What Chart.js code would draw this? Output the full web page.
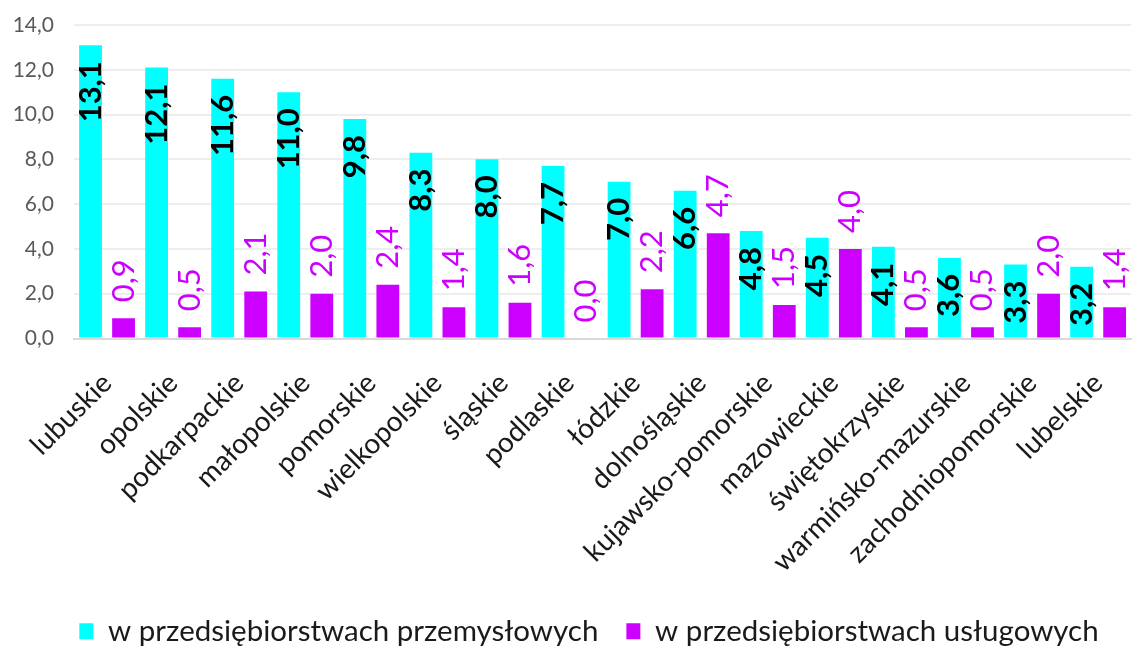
<!DOCTYPE html>
<html>
<head>
<meta charset="utf-8">
<script src="https://cdn.jsdelivr.net/npm/chart.js@4.4.1/dist/chart.umd.min.js"></script>
<style>
  html, body { margin: 0; padding: 0; background: #fff; overflow: hidden; }
</style>
</head>
<body>
<canvas id="chart" width="1150" height="648"></canvas>
<script>
// dane z wykresu
const regions = [
    'lubuskie', 'opolskie', 'podkarpackie', 'małopolskie', 'pomorskie',
    'wielkopolskie', 'śląskie', 'podlaskie', 'łódzkie', 'dolnośląskie',
    'kujawsko-pomorskie', 'mazowieckie', 'świętokrzyskie',
    'warmińsko-mazurskie', 'zachodniopomorskie', 'lubelskie'
];
const przemyslowe = [13.1, 12.1, 11.6, 11.0, 9.8, 8.3, 8.0, 7.7, 7.0, 6.6, 4.8, 4.5, 4.1, 3.6, 3.3, 3.2];
const uslugowe = [0.9, 0.5, 2.1, 2.0, 2.4, 1.4, 1.6, 0.0, 2.2, 4.7, 1.5, 4.0, 0.5, 0.5, 2.0, 1.4];
const seriesNames = ['w przedsiębiorstwach przemysłowych', 'w przedsiębiorstwach usługowych'];
const yMin = 0, yMax = 14, yStep = 2;

const CYAN = '#00FFFF';
const MAGENTA = '#CC00FF';
const FONT = 'Lato';

const fmt = v => Number(v).toFixed(1).replace('.', ',');

// etykiety danych obrócone o 90 stopni
const barLabels = {
    id: 'barLabels',
    afterDatasetsDraw(chart) {
        const ctx = chart.ctx;
        chart.data.datasets.forEach((ds, i) => {
            const meta = chart.getDatasetMeta(i);
            meta.data.forEach((bar, j) => {
                ctx.save();
                if (i === 0) {
                    ctx.translate(bar.x, bar.y + 16);
                    ctx.textAlign = 'right';
                    ctx.fillStyle = '#000';
                    ctx.font = 'bold 31px ' + FONT;
                } else {
                    ctx.translate(bar.x, bar.y - 16);
                    ctx.textAlign = 'left';
                    ctx.fillStyle = MAGENTA;
                    ctx.font = '31px ' + FONT;
                }
                ctx.rotate(-Math.PI / 2);
                ctx.textBaseline = 'middle';
                ctx.fillText(fmt(ds.data[j]), 0, 0);
                ctx.restore();
            });
        });
    }
};

// przesunięcie legendy, żeby stała tam gdzie w oryginale
const legendShift = {
    id: 'legendShift',
    afterLayout(chart) {
        const lg = chart.legend;
        lg.left += 16; lg.right += 16;
        lg.top += 8; lg.bottom += 8;
    }
};

const data = {
    labels: regions,
    datasets: [{
        label: seriesNames[0],
        data: przemyslowe,
        backgroundColor: CYAN
    }, {
        label: seriesNames[1],
        data: uslugowe,
        backgroundColor: MAGENTA
    }]
};

const config = {
    type: 'bar',
    data: data,
    options: {
        responsive: false,
        animation: false,
        layout: { padding: { top: 25, left: 0, right: 4, bottom: 0 } },
        datasets: {
            bar: { categoryPercentage: 1.0, barPercentage: 0.69 }
        },
        scales: {
            x: {
                grid: { display: false, drawTicks: false },
                border: { color: '#D9D9D9', width: 2 },
                ticks: {
                    minRotation: 45,
                    maxRotation: 45,
                    padding: 28,
                    color: '#1a1a1a',
                    font: { family: FONT, size: 28 }
                },
                afterFit(scale) { scale.height = 242; }
            },
            y: {
                min: yMin,
                max: yMax,
                grid: {
                    drawTicks: false,
                    lineWidth: 2,
                    color: c => c.tick && c.tick.value === 0 ? '#D9D9D9' : '#EEEEEE'
                },
                border: { display: false },
                ticks: {
                    stepSize: yStep,
                    padding: 20,
                    color: '#595959',
                    font: { family: FONT, size: 21 },
                    callback: v => fmt(v)
                },
                afterFit(scale) {
                    scale.width = 74;
                    scale.paddingTop = 8;
                    scale.paddingBottom = 0;
                }
            }
        },
        plugins: {
            legend: {
                position: 'bottom',
                labels: {
                    boxWidth: 14,
                    boxHeight: 16,
                    padding: 28,
                    color: '#1a1a1a',
                    font: { family: FONT, size: 29.5 }
                }
            },
            tooltip: { enabled: false }
        }
    },
    plugins: [barLabels, legendShift]
};

const myChart = new Chart(document.getElementById('chart'), config);
</script>
</body>
</html>
